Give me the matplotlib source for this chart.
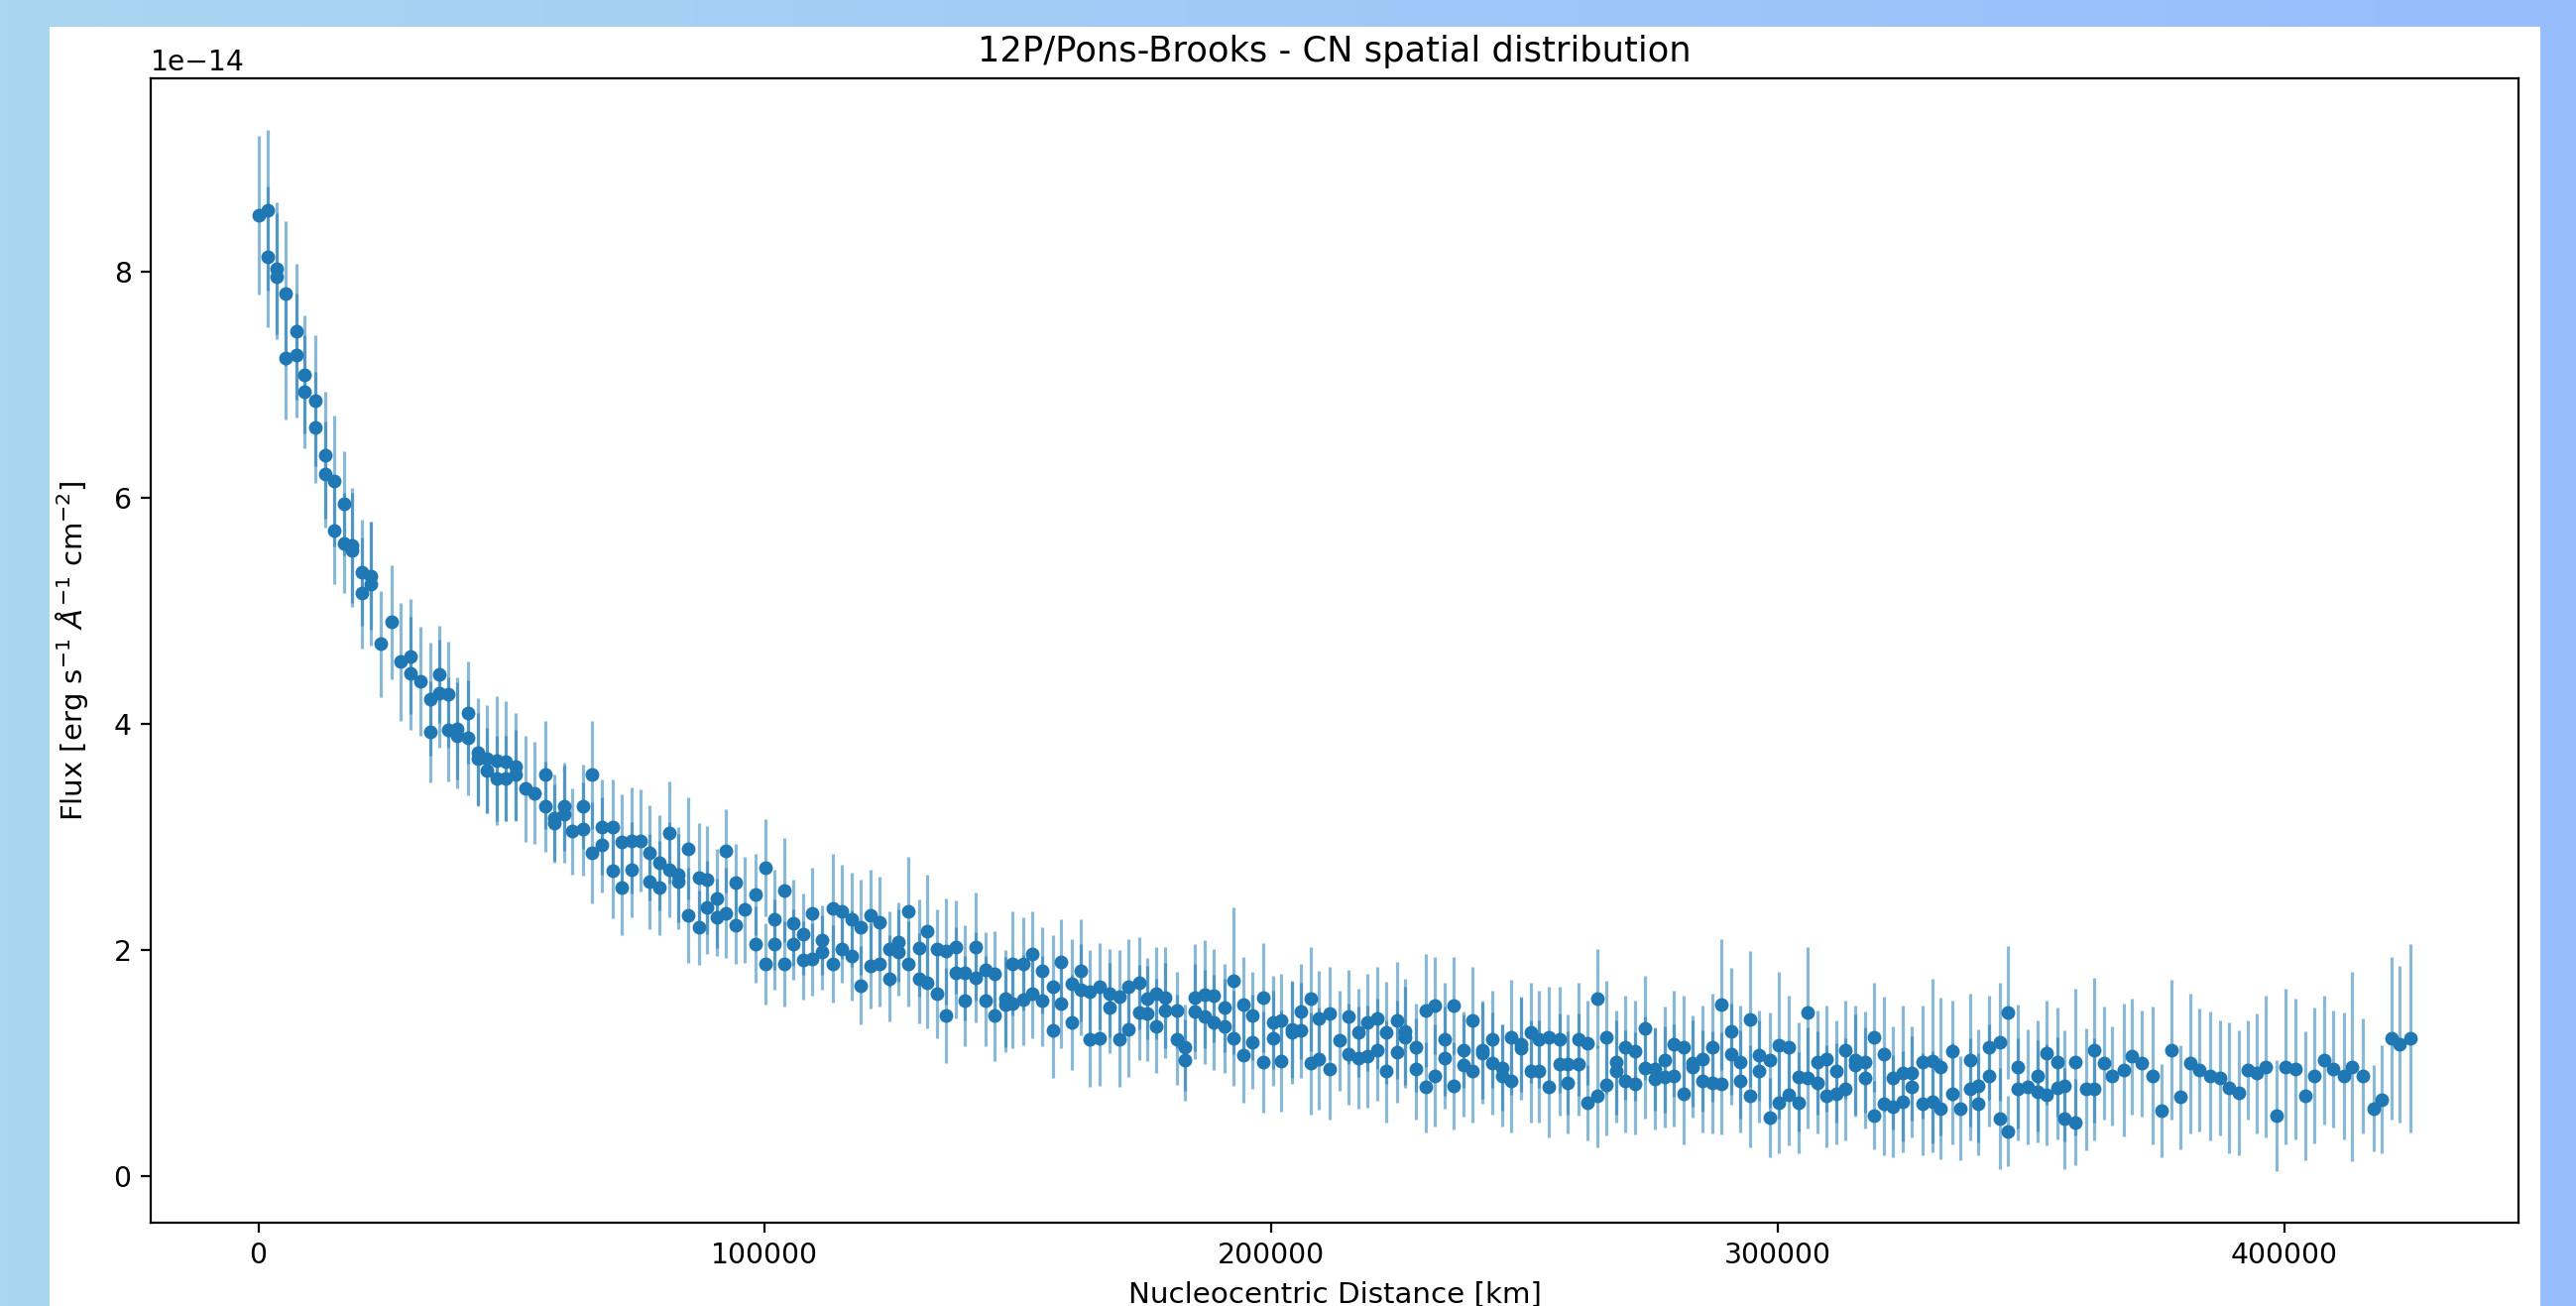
import numpy as np
import matplotlib
matplotlib.use("Agg")
import matplotlib.pyplot as plt
from matplotlib.patches import Rectangle

# ---------------- data (flux in units of 1e-14) ----------------
distance_km = [
    0, 1760, 1760, 3660, 3660, 5350, 5350, 7440, 7440, 9070, 9070, 11160, 11160,
    13180, 13180, 14950, 14950, 16900, 16900, 18540, 18540, 20490, 20490, 22260, 22260,
    24220, 26370, 28130, 30090, 30090, 31910, 33870, 33870, 35630, 35630, 37460, 37460,
    39290, 39290,
    41380, 41380, 43340, 43340, 45170, 45170, 47130, 47130, 48890, 48890, 50850, 50850,
    52670, 54570, 56720, 56720, 58350, 58350, 60310, 60310, 61940, 64090, 64090,
    65850, 65850, 67810, 67810, 69900, 69900, 71730, 71730, 73690, 73690, 75510,
    77280, 77280, 79100, 79100, 81190, 81190, 82820, 82820, 84920, 84920, 86940, 86940,
    88570, 88570, 90520, 90520, 92290, 92290, 94240, 94240, 96080, 98160, 98160,
    100120, 100120, 101880, 101880, 103910, 103910, 105670, 105670, 107630, 107630,
    109260, 109260, 111350, 111350, 113370, 113370, 115130, 115130, 117090, 117090,
    118850, 118850, 120810, 120810, 122630, 122630, 124590, 124590, 126350, 126350,
    128310, 128310, 130460, 130460, 131970, 131970,
    134060, 134060, 135690, 135690, 137650, 137650, 139470, 139470, 141560, 141560,
    143660, 143660, 145280, 145280, 147440, 147440, 148940, 148940, 151030, 151030,
    152790, 152790, 154820, 154820, 156900, 156900, 158540, 158540, 160620, 160620,
    162320, 162320, 164210, 164210, 166040, 166040, 168000, 168000, 170090, 170090,
    171780, 171780, 173870, 173870, 175500, 175500, 177260, 177260,
    179100, 179100, 181370, 181370, 183010, 183010, 184970, 184970, 186930, 186930,
    188690, 188690, 190840, 190840, 192470, 192470, 194560, 194560, 196250, 196250,
    198340, 198340, 200300, 200300, 201930, 201930, 204030, 204030, 205850, 205850,
    207810, 207810, 209450, 209450, 211530, 211530, 213480, 215190, 215190,
    217280, 217280, 218900, 218900, 221000, 221000, 222690, 222690,
    224780, 224780, 226410, 226410, 228500, 228500, 230460, 230460, 232290, 232290,
    234240, 234240, 236010, 236010, 237960, 237960, 239660, 239660, 241750, 241750,
    243710, 243710, 245530, 245530, 247430, 247430, 249250, 249250, 251210, 251210,
    252840, 252840, 254800, 254800, 256890, 256890, 258590, 258590, 260670, 260670,
    262440, 262440, 264460, 264460, 266090, 266090,
    268180, 268180, 269940, 269940, 271900, 271900, 273860, 273860, 275690, 275690,
    277780, 277780, 279470, 279470, 281430, 281430, 283190, 283190, 285150, 285150,
    287110, 287110, 288870, 288870, 290900, 290900, 292660, 292660, 294620, 294620,
    296250, 296250, 298400, 298400, 300300, 300300, 302120, 302120, 304210, 304210,
    305840, 305840, 307850, 307850, 309620, 309620, 311580, 311580,
    313410, 313410, 315370, 315370, 317330, 317330, 319100, 319100, 321050, 321050,
    322820, 322820, 324780, 324780, 326460, 326460, 328560, 328560, 330520, 330520,
    332150, 332150, 334430, 334430, 336060, 338020, 338020, 339660, 339660,
    341740, 341740, 343890, 343890, 345530, 345530, 347490, 347490, 349310,
    351270, 351270, 353030, 353030, 355180, 355180, 356620, 356620,
    358710, 358710, 360860, 362500, 362500, 364450, 366090, 368370, 370000, 371960,
    374110, 375740, 377830, 379460, 381420, 383240, 385330, 387290, 389120, 391070,
    392840, 394670, 396430, 398520, 400220, 402180,
    404270, 405900, 407990, 409610, 411770, 413400, 415490, 417640, 419270, 421230,
    422870, 425020,
]

flux = [
    8.50, 8.54, 8.13, 8.03, 7.96, 7.81, 7.24, 7.47, 7.26, 7.09, 6.94, 6.86, 6.62,
    6.38, 6.21, 6.15, 5.71, 5.95, 5.60, 5.58, 5.54, 5.34, 5.16, 5.31, 5.24,
    4.71, 4.90, 4.55, 4.60, 4.45, 4.38, 4.22, 3.93, 4.44, 4.27, 4.26, 3.95,
    3.96, 3.90,
    4.10, 3.88, 3.75, 3.69, 3.69, 3.59, 3.68, 3.52, 3.67, 3.52, 3.62, 3.55,
    3.43, 3.39, 3.55, 3.27, 3.17, 3.12, 3.27, 3.20, 3.05, 3.27, 3.07,
    3.55, 2.86, 3.09, 2.93, 3.09, 2.70, 2.96, 2.55, 2.97, 2.71, 2.97,
    2.86, 2.61, 2.77, 2.55, 3.04, 2.71, 2.67, 2.61, 2.90, 2.31, 2.64, 2.20,
    2.62, 2.38, 2.46, 2.29, 2.88, 2.33, 2.60, 2.22, 2.36, 2.49, 2.05,
    2.73, 1.88, 2.27, 2.05, 2.53, 1.88, 2.24, 2.05, 2.14, 1.91,
    2.33, 1.92, 2.09, 1.98, 2.37, 1.88, 2.34, 2.01, 2.27, 1.95,
    2.20, 1.69, 2.31, 1.86, 2.25, 1.88, 2.01, 1.75, 2.07, 1.98,
    2.34, 1.88, 2.02, 1.75, 2.17, 1.71,
    2.01, 1.62, 1.99, 1.42, 2.03, 1.80, 1.80, 1.55, 2.03, 1.76,
    1.83, 1.55, 1.79, 1.42, 1.57, 1.52, 1.88, 1.53, 1.88, 1.56,
    1.97, 1.62, 1.82, 1.55, 1.68, 1.29, 1.90, 1.53, 1.70, 1.36,
    1.82, 1.65, 1.63, 1.21, 1.68, 1.22, 1.62, 1.49, 1.59, 1.21,
    1.68, 1.30, 1.71, 1.45, 1.57, 1.44, 1.62, 1.33,
    1.58, 1.47, 1.47, 1.21, 1.14, 1.03, 1.58, 1.46, 1.61, 1.41,
    1.60, 1.36, 1.49, 1.33, 1.73, 1.22, 1.52, 1.07, 1.42, 1.19,
    1.58, 1.01, 1.36, 1.22, 1.38, 1.02, 1.30, 1.27, 1.46, 1.29,
    1.57, 1.00, 1.40, 1.04, 1.44, 0.95, 1.20, 1.41, 1.08,
    1.27, 1.05, 1.36, 1.06, 1.40, 1.12, 1.27, 0.93,
    1.38, 1.10, 1.28, 1.23, 1.14, 0.95, 1.47, 0.79, 1.51, 0.89,
    1.21, 1.05, 1.51, 0.80, 1.12, 0.98, 1.38, 0.93, 1.12, 1.09,
    1.21, 1.00, 0.96, 0.89, 1.23, 0.84, 1.17, 1.13, 1.27, 0.93,
    1.21, 0.93, 1.23, 0.79, 1.21, 0.99, 0.99, 0.83, 1.21, 0.99,
    1.18, 0.65, 1.57, 0.71, 1.23, 0.81,
    1.01, 0.93, 1.14, 0.84, 1.11, 0.82, 1.31, 0.96, 0.95, 0.86,
    1.03, 0.88, 1.17, 0.89, 1.14, 0.73, 1.00, 0.97, 1.04, 0.84,
    1.14, 0.83, 1.52, 0.82, 1.28, 1.08, 1.01, 0.84, 1.39, 0.71,
    1.07, 0.93, 1.03, 0.52, 1.16, 0.65, 1.14, 0.72, 0.88, 0.65,
    1.45, 0.87, 1.01, 0.83, 1.04, 0.71, 0.93, 0.73,
    1.12, 0.77, 1.03, 0.98, 1.01, 0.87, 1.23, 0.54, 1.08, 0.64,
    0.87, 0.62, 0.91, 0.66, 0.91, 0.79, 1.01, 0.64, 1.02, 0.66,
    0.97, 0.60, 1.11, 0.73, 0.60, 1.03, 0.77, 0.80, 0.64,
    1.14, 0.89, 1.19, 0.51, 1.45, 0.40, 0.97, 0.77, 0.79,
    0.89, 0.75, 1.09, 0.72, 1.01, 0.78, 0.80, 0.51,
    1.01, 0.48, 0.77, 1.12, 0.77, 1.00, 0.89, 0.94, 1.06, 1.00,
    0.89, 0.58, 1.12, 0.70, 1.00, 0.94, 0.89, 0.87, 0.78, 0.74,
    0.94, 0.91, 0.97, 0.54, 0.97, 0.95,
    0.71, 0.89, 1.03, 0.95, 0.89, 0.97, 0.89, 0.60, 0.68, 1.22,
    1.17, 1.22,
]

flux_err = [
    0.70, 0.71, 0.62, 0.58, 0.56, 0.64, 0.55, 0.60, 0.55, 0.52, 0.50, 0.58, 0.49,
    0.56, 0.47, 0.58, 0.47, 0.46, 0.44, 0.51, 0.50, 0.47, 0.49, 0.48, 0.55,
    0.47, 0.50, 0.52, 0.51, 0.50, 0.48, 0.50, 0.45, 0.43, 0.48, 0.47, 0.46,
    0.45, 0.47,
    0.45, 0.51, 0.48, 0.41, 0.48, 0.38, 0.57, 0.38, 0.53, 0.38, 0.48, 0.40,
    0.47, 0.45, 0.48, 0.40, 0.38, 0.35, 0.39, 0.43, 0.38, 0.37, 0.41,
    0.48, 0.45, 0.42, 0.42, 0.42, 0.42, 0.42, 0.42, 0.47, 0.42, 0.45,
    0.42, 0.42, 0.42, 0.42, 0.45, 0.42, 0.42, 0.42, 0.45, 0.42, 0.48, 0.33,
    0.48, 0.41, 0.44, 0.34, 0.37, 0.40, 0.34, 0.34, 0.47, 0.36, 0.34,
    0.43, 0.36, 0.44, 0.40, 0.46, 0.38, 0.38, 0.31, 0.36, 0.35,
    0.40, 0.32, 0.31, 0.33, 0.48, 0.34, 0.42, 0.30, 0.42, 0.40,
    0.42, 0.35, 0.40, 0.38, 0.40, 0.38, 0.33, 0.38, 0.35, 0.38,
    0.49, 0.38, 0.43, 0.40, 0.50, 0.40,
    0.35, 0.40, 0.47, 0.42, 0.41, 0.40, 0.42, 0.40, 0.48, 0.40,
    0.33, 0.40, 0.38, 0.40, 0.43, 0.42, 0.46, 0.40, 0.41, 0.40,
    0.37, 0.40, 0.38, 0.40, 0.45, 0.42, 0.37, 0.40, 0.40, 0.42,
    0.45, 0.40, 0.37, 0.42, 0.38, 0.42, 0.39, 0.40, 0.41, 0.42,
    0.42, 0.42, 0.41, 0.42, 0.36, 0.42, 0.41, 0.42,
    0.45, 0.42, 0.34, 0.40, 0.38, 0.36, 0.47, 0.42, 0.48, 0.42,
    0.41, 0.42, 0.39, 0.42, 0.65, 0.42, 0.42, 0.42, 0.39, 0.42,
    0.48, 0.45, 0.41, 0.42, 0.41, 0.45, 0.43, 0.45, 0.42, 0.42,
    0.46, 0.45, 0.42, 0.45, 0.41, 0.45, 0.44, 0.42, 0.45,
    0.39, 0.45, 0.43, 0.45, 0.45, 0.45, 0.45, 0.45,
    0.52, 0.45, 0.47, 0.45, 0.39, 0.45, 0.50, 0.40, 0.43, 0.45,
    0.50, 0.45, 0.43, 0.39, 0.34, 0.45, 0.47, 0.45, 0.43, 0.45,
    0.43, 0.45, 0.38, 0.45, 0.51, 0.45, 0.42, 0.45, 0.44, 0.45,
    0.43, 0.45, 0.45, 0.45, 0.47, 0.45, 0.44, 0.45, 0.50, 0.45,
    0.37, 0.33, 0.44, 0.45, 0.50, 0.45,
    0.46, 0.45, 0.46, 0.45, 0.44, 0.45, 0.46, 0.45, 0.37, 0.45,
    0.47, 0.45, 0.47, 0.45, 0.46, 0.45, 0.38, 0.45, 0.47, 0.45,
    0.48, 0.45, 0.58, 0.45, 0.56, 0.45, 0.50, 0.45, 0.60, 0.45,
    0.40, 0.45, 0.42, 0.35, 0.65, 0.45, 0.46, 0.45, 0.48, 0.45,
    0.58, 0.45, 0.46, 0.45, 0.47, 0.45, 0.45, 0.45,
    0.43, 0.45, 0.48, 0.45, 0.45, 0.45, 0.48, 0.30, 0.51, 0.45,
    0.46, 0.45, 0.60, 0.45, 0.42, 0.45, 0.50, 0.45, 0.73, 0.45,
    0.61, 0.45, 0.44, 0.45, 0.46, 0.59, 0.45, 0.50, 0.45,
    0.46, 0.45, 0.52, 0.45, 0.59, 0.31, 0.55, 0.45, 0.51,
    0.49, 0.45, 0.46, 0.45, 0.48, 0.45, 0.49, 0.45,
    0.65, 0.38, 0.54, 0.64, 0.45, 0.50, 0.44, 0.59, 0.51, 0.47,
    0.61, 0.41, 0.62, 0.46, 0.62, 0.54, 0.57, 0.51, 0.58, 0.55,
    0.44, 0.53, 0.63, 0.49, 0.69, 0.62,
    0.57, 0.60, 0.57, 0.52, 0.56, 0.84, 0.51, 0.38, 0.48, 0.72,
    0.69, 0.83,
]

title = "12P/Pons-Brooks - CN spatial distribution"
xlabel = "Nucleocentric Distance [km]"
ylabel = r"Flux [erg s$^{-1}$ $\AA^{-1}$ cm$^{-2}$]"

# ---------------- figure ----------------
W, H, DPI = 2598, 1317, 200
fig = plt.figure(figsize=(W / DPI, H / DPI), dpi=DPI)

# gradient backdrop
bg = fig.add_axes([0, 0, 1, 1])
bg.set_axis_off()
c_left = np.array([0xA9, 0xD7, 0xF1]) / 255.0
c_right = np.array([0x96, 0xBD, 0xFD]) / 255.0
t = np.linspace(0, 1, 256)[None, :, None]
grad = c_left[None, None, :] * (1 - t) + c_right[None, None, :] * t
bg.imshow(grad, aspect="auto", extent=[0, 1, 0, 1])
bg.set_xlim(0, 1)
bg.set_ylim(0, 1)
bg.add_patch(Rectangle((50 / W, 0), (2562 - 50) / W, (H - 27) / H,
                       facecolor="white", edgecolor="none"))

ax = fig.add_axes([152 / W, (H - 1233) / H, (2540 - 152) / W, (1233 - 79) / H])

x = np.array(distance_km, dtype=float)
y = np.array(flux) * 1e-14
e = np.array(flux_err) * 1e-14

eb = ax.errorbar(x, y, yerr=e, fmt="o", color="C0", ms=4, elinewidth=1.15)
eb[2][0].set_alpha(0.52)

ax.set_title(title, fontsize=12.7)
ax.set_xlabel(xlabel, fontsize=10.6)
ax.set_ylabel(ylabel, fontsize=10.5, labelpad=8.5)
ax.set_xticks([0, 100000, 200000, 300000, 400000])
ax.ticklabel_format(axis="x", style="plain")
ax.tick_params(labelsize=10.2)
ax.yaxis.get_offset_text().set_fontsize(10.2)

fig.savefig("out.png", dpi=DPI)
